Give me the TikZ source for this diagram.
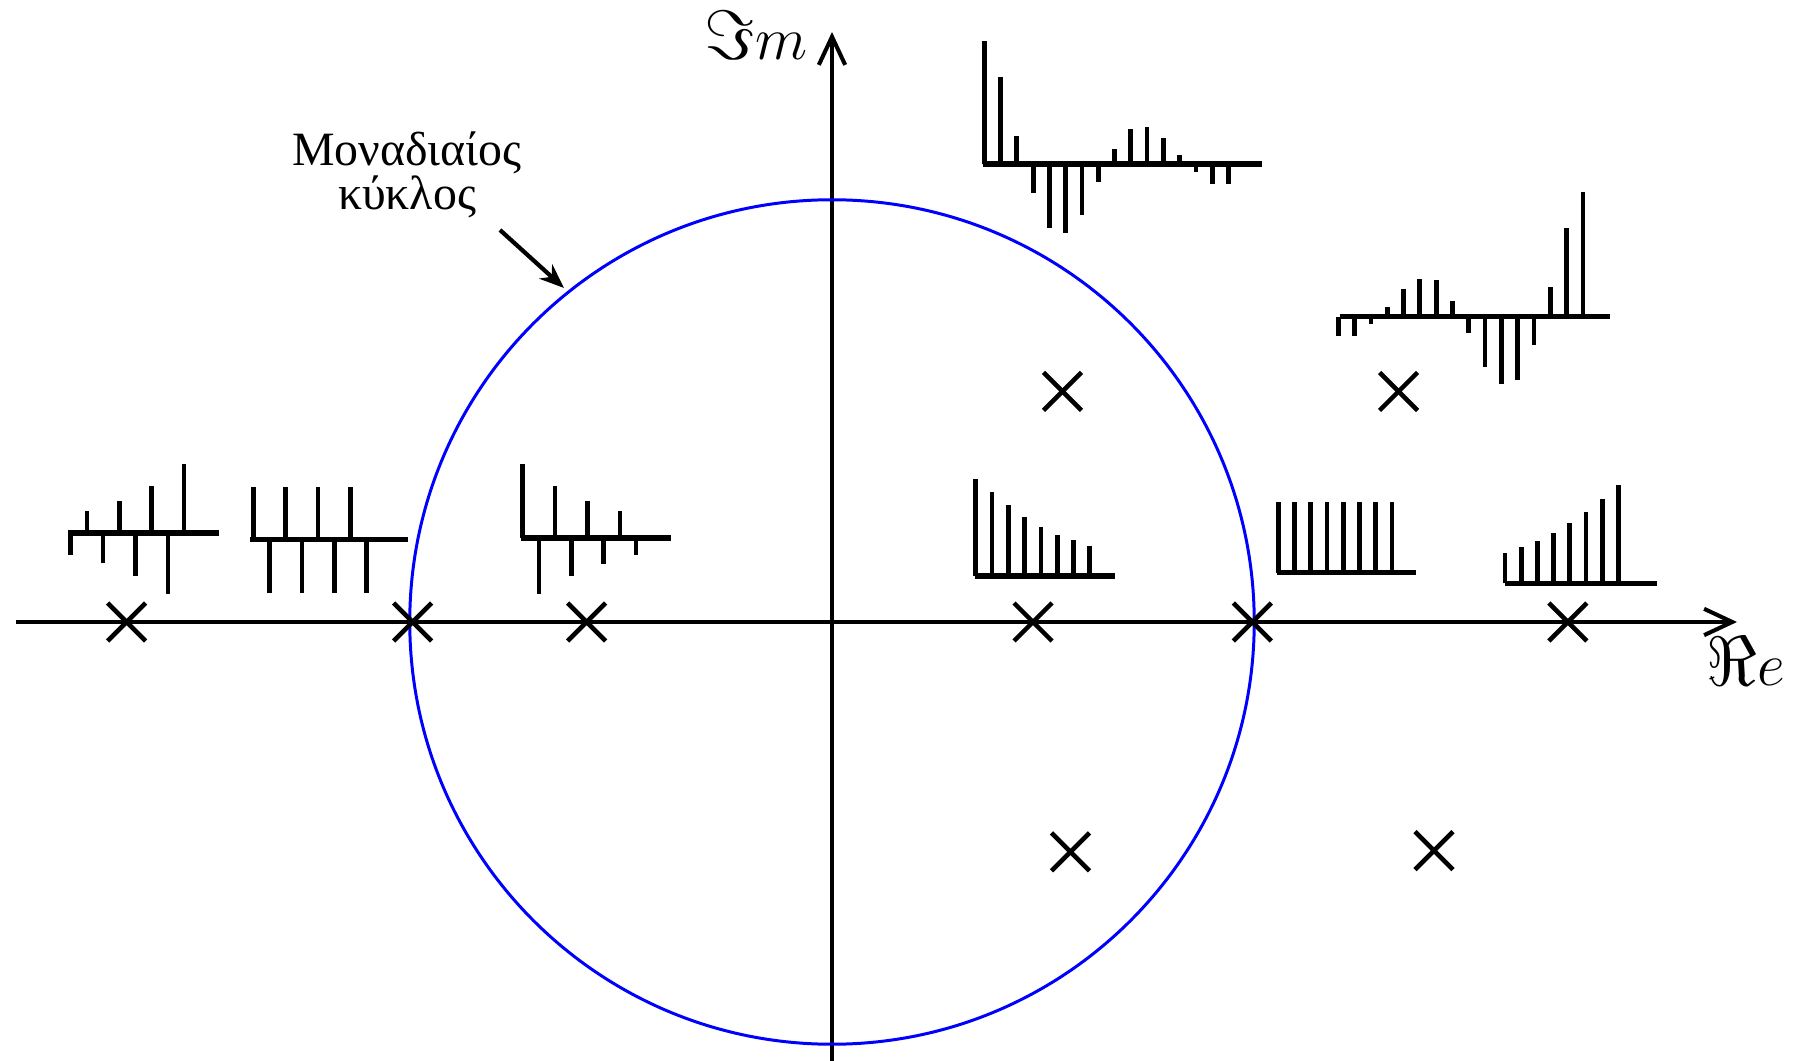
\documentclass[tikz,border=0pt]{standalone}
\usepackage{fontspec}
\newfontfamily\greekfont{Liberation Serif}
\usetikzlibrary{arrows.meta,calc}
\begin{document}
\begin{tikzpicture}[x=0.01cm,y=-0.01cm,
  axis/.style={line width=1.15pt,-{Straight Barb[length=8pt,width=7.5pt,line width=1.15pt]}},
  unitc/.style={draw=blue,line width=0.85pt},
  stemline/.style={line width=1.35pt,line cap=butt,black},
  baseln/.style={line width=1.45pt,line cap=butt,black},
  polemark/.style={line width=1.3pt,line cap=butt},
  pointer/.style={line width=1.2pt,-{Stealth[length=7pt,width=5.5pt]}},
  axlabel/.style={inner sep=0pt,anchor=base}]
\useasboundingbox (0,0) rectangle (1805,1061);

% axes
\coordinate (xs) at (16,622);
\coordinate (xe) at (1737,622);
\coordinate (ys) at (832,1061);
\coordinate (ye) at (832,32);
\coordinate (O) at (832,622);
\draw[axis] (xs) -- (xe);
\draw[axis] (ys) -- (ye);
\node[axlabel,font=\fontsize{18}{20}\selectfont] (imlbl) at (756,60) {$\scalebox{1.15}{$\Im$}m$};
\node[axlabel,font=\fontsize{19}{22}\selectfont] (relbl) at (1746,686) {$\scalebox{1.15}{$\Re$}e$};

% unit circle
\draw[unitc] (O) circle[radius=4.22cm];

% label and pointer
\node[font=\greekfont\fontsize{13.6}{12.6}\selectfont,align=center,inner sep=0pt] (lbl) at (407,175) {Μοναδιαίος\\κύκλος};
\coordinate (pa) at (500,230);
\coordinate (pb) at (564,288);
\draw[pointer] (pa) -- (pb);

% poles
\foreach \px/\py [count=\k] in {126.6/622, 412.7/622, 586.7/622, 1033/622, 1252.3/622, 1567.8/622,
  1062.5/391.4, 1398.6/391.4, 1070.5/851.8, 1434/850.7} {
  \coordinate (p\k) at (\px,\py);
  \draw[polemark] ($(p\k)+(-19,-19)$) -- ($(p\k)+(19,19)$);
  \draw[polemark] ($(p\k)+(-19,19)$) -- ($(p\k)+(19,-19)$);
}

% stem plots: origin x, baseline y, spacing, baseline start, baseline end, values
\newcommand{\stemplot}[6]{%
  \begin{scope}[shift={(#1,#2)}]
    \draw[baseln] (#4-#1,0) -- (#5-#1,0);
    \foreach \v [count=\i from 0] in {#6} {
      \draw[stemline] ({\i*#3},0) -- ({\i*#3},{-1*(\v)});
    }
  \end{scope}}

\stemplot{70.7}{533}{16.2}{68}{219}{-22,22,-30,32,-43,47,-61,69}
\stemplot{253.3}{539.7}{16.2}{250}{408}{53,-53,53,-53,53,-53,53,-53}
\stemplot{522.7}{538}{16.2}{521}{671}{74,-56,52,-38,37,-26,27,-17}
\stemplot{984.3}{164}{16.28}{983}{1262}{123,87,28,-29,-64,-69,-51,-18,15,35,37,26,9,-8,-20,-20}
\stemplot{1338.3}{316.7}{16.31}{1340}{1610}{-19,-19,-7,10,28,38,37,16,-16,-50,-67,-63,-28,30,89,125}
\stemplot{975.7}{576}{16.3}{975}{1115}{97,84,71,59,49,41,36,30}
\stemplot{1278.3}{572.7}{16.24}{1277}{1416}{71,71,71,71,71,71,71,71}
\stemplot{1505}{583.3}{16.19}{1505}{1657}{30,36,42,50,60,71,84,98}
\end{tikzpicture}
\end{document}
